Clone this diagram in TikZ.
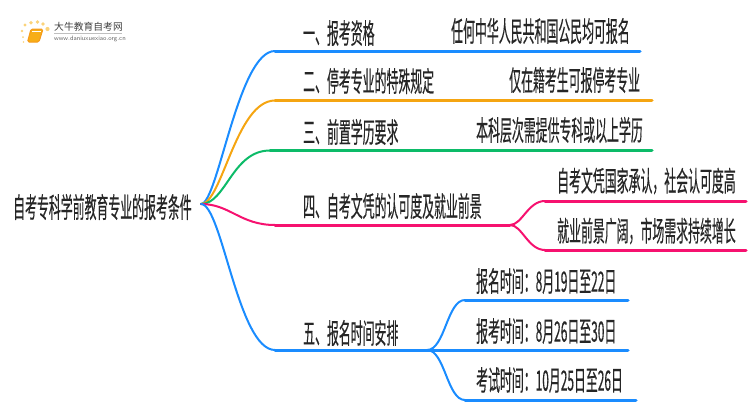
\documentclass[tikz,border=0pt]{standalone}
\usepackage{fontspec}
\usetikzlibrary{positioning}
\newfontfamily\cjkfont[FakeStretch=0.425,FakeBold=0.3]{Noto Sans CJK SC}
\newfontfamily\logofont{Noto Sans CJK SC}
\definecolor{lineblue}{HTML}{1A8CFF}
\definecolor{lineorange}{HTML}{F5A511}
\definecolor{linegreen}{HTML}{0CBB68}
\definecolor{linepink}{HTML}{F6116F}
\definecolor{bookorange}{HTML}{F59A1B}
\definecolor{dotyellow}{HTML}{FBD37A}
\tikzset{
  label/.style={inner sep=0pt, anchor=west, text=black!85, font=\cjkfont\fontsize{28}{28}\selectfont},
  branch/.style={line width=2pt, line cap=round},
  rail/.style={line width=3pt, line cap=round},
  dot/.style={circle, fill=dotyellow, inner sep=0pt},
}
\begin{document}
\begin{tikzpicture}[x=1pt, y=-1pt]
  \useasboundingbox (0,0) rectangle (750,410);
  % logo
  \foreach \x/\y/\r in {25/25/3.4, 31/22.7/3.6, 37.5/22/3.8, 43/24/3.6, 47.5/29/4.2, 22/31/2.6, 23/37/2, 23.5/42/1.6}
    \node[dot, minimum size=\r pt] (d\x) at (\x,\y) {};
  \draw[bookorange, fill=bookorange!80!yellow, line width=1pt, rounded corners=1.5pt] (31,29) -- (43,29) -- (39,42) -- (27.5,42) -- cycle;
  \draw[white, line width=0.7pt] (32,31.5) -- (41,31.5);
  \node[inner sep=0pt, anchor=west, text=black!75, font=\logofont\fontsize{9.8}{10}\selectfont] (logotitle) at (54,27) {大牛教育自考网};
  \node[inner sep=0pt, anchor=west, text=black!60, font=\sffamily\fontsize{6.4}{7}\selectfont] (logourl) at (54,38.5) {www.daniuxuexiao.org.cn};
  \draw[black!25, line width=0.5pt] (logotitle.south west) ++(0,1.5) -- ++(68,0);

  % root and branch labels
  \node[label] (root) at (13,207) {自考专科学前教育专业的报考条件};
  \coordinate (c0) at (201,204);
  \node[label] (b1) at (303,33) {一、报考资格};
  \node[label] (b2) at (303,81) {二、停考专业的特殊规定};
  \node[label] (b3) at (303,132) {三、前置学历要求};
  \node[label] (b4) at (303,206) {四、自考文凭的认可度及就业前景};
  \node[label] (b5) at (303,333) {五、报名时间安排};

  % leaves
  \node[label] (l1) at (451,31) {任何中华人民共和国公民均可报名};
  \node[label] (l2) at (509,80) {仅在籍考生可报停考专业};
  \node[label] (l3) at (476,130) {本科层次需提供专科或以上学历};
  \node[label] (l41) at (557,181) {自考文凭国家承认，社会认可度高};
  \node[label] (l42) at (557,231) {就业前景广阔，市场需求持续增长};
  \node[label] (l51) at (476,281) {报名时间：8月19日至22日};
  \node[label] (l52) at (476,331) {报考时间：8月26日至30日};
  \node[label] (l53) at (476,380) {考试时间：10月25日至26日};

  % connector ends
  \coordinate (s1) at (275,51);   \coordinate (e1) at (640,51);
  \coordinate (s2) at (275,100.5); \coordinate (e2) at (652,100.5);
  \coordinate (s3) at (270,150.5); \coordinate (e3) at (652,150.5);
  \coordinate (s4) at (275,225);  \coordinate (j4) at (510,225);
  \coordinate (s5) at (275,350);  \coordinate (j5) at (427,350);
  \coordinate (s41) at (545,201); \coordinate (e41) at (746,201);
  \coordinate (s42) at (545,250); \coordinate (e42) at (746,250);
  \coordinate (s51) at (465,300); \coordinate (e51) at (628,300);
  \coordinate (e52) at (628,350);
  \coordinate (s53) at (465,400); \coordinate (e53) at (636,400);

  \draw[branch, lineblue] (c0) .. controls (218,204) and (238,51) .. (s1);
  \draw[rail, lineblue] (s1) -- (e1);
  \draw[branch, lineorange] (c0) .. controls (222,204) and (236,100.5) .. (s2);
  \draw[rail, lineorange] (s2) -- (e2);
  \draw[branch, linegreen] (c0) .. controls (226,204) and (232,150.5) .. (s3);
  \draw[rail, linegreen] (s3) -- (e3);
  \draw[branch, linepink] (c0) .. controls (230,204) and (240,225) .. (s4);
  \draw[rail, linepink] (s4) -- (j4);
  \draw[branch, lineblue] (c0) .. controls (222,204) and (238,350) .. (s5);
  \draw[rail, lineblue] (s5) -- (j5);
  \draw[branch, linepink] (j4) .. controls (522,225) and (528,201) .. (s41);
  \draw[rail, linepink] (s41) -- (e41);
  \draw[branch, linepink] (j4) .. controls (522,225) and (528,250) .. (s42);
  \draw[rail, linepink] (s42) -- (e42);
  \draw[branch, lineblue] (j5) .. controls (445,350) and (447,300) .. (s51);
  \draw[rail, lineblue] (s51) -- (e51);
  \draw[rail, lineblue] (j5) -- (e52);
  \draw[branch, lineblue] (j5) .. controls (445,350) and (447,400) .. (s53);
  \draw[rail, lineblue] (s53) -- (e53);
\end{tikzpicture}
\end{document}
